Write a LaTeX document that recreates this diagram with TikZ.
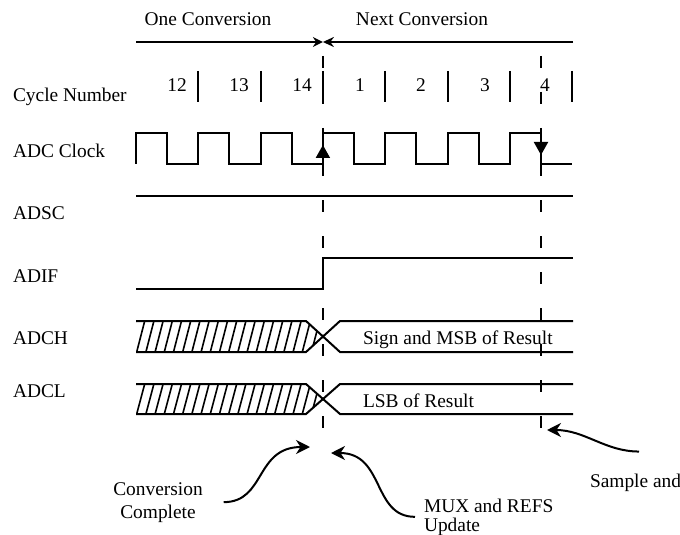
\documentclass[tikz,border=0pt]{standalone}
\usepackage{fontspec}
\setmainfont{Liberation Serif}
\usetikzlibrary{arrows.meta}

\begin{document}
\begin{tikzpicture}[x=0.5pt, y=-0.5pt, line width=1pt,
  font=\fontsize{9.7}{11.5}\selectfont,
  lbl/.style={inner sep=0pt, anchor=base west},
  txt/.style={inner sep=0pt, anchor=base},
  vline/.style={dash pattern=on 6pt off 12pt},
  edgetip/.style={-{Triangle[length=6.5pt,width=7pt]}},
  callout/.style={-{Stealth[length=7pt,width=7pt]}}]
  \useasboundingbox (0,0) rectangle (680,535);
  \clip (0,0) rectangle (680,535);
  % Conversion span
  \node[txt] (one) at (208,26) {One Conversion};
  \node[txt] (next) at (422,26) {Next Conversion};
  \coordinate (spanl) at (136,42);
  \coordinate (spanm) at (322.9,42);
  \coordinate (spanr) at (573,42);
  \draw[-{Stealth[length=5pt,width=5pt]}] (spanl) -- (spanm);
  \draw[-{Stealth[length=5.5pt,width=5pt]}] (spanr) -- (spanm);
  % Signal names
  \node[lbl] (cyc) at (12,102) {Cycle Number};
  \node[lbl] (clk) at (12,157) {ADC Clock};
  \node[lbl] (adsc) at (12,220) {ADSC};
  \node[lbl] (adif) at (12,282) {ADIF};
  \node[lbl] (adch) at (12,344) {ADCH};
  \node[lbl] (adcl) at (12,397) {ADCL};
  % Cycle numbers and ticks
  \foreach \n/\x in {12/177,13/239,14/302,1/360,2/421,3/485,4/545}
    \node[txt] (c\n) at (\x,92) {\n};
  \foreach \x in {198.3,260.6,322.9,385.2,447.5,509.8,572.1}
    \draw (\x,71) -- (\x,102);
  % ADC Clock
  \draw (136,164) \foreach \k in {0,...,6} {-- ++(0,-31) -- ++(31.15,0) -- ++(0,31) -- ++(31.15,0)};
  \draw[edgetip] (322.9,164) -- (322.9,145);
  \draw[edgetip] (541,133) -- (541,155);
  % ADSC
  \draw (136,196) -- (573,196);
  % ADIF
  \draw (136,289) -- (322.9,289) -- (322.9,258) -- (573,258);
  % ADCH and ADCL buses
  \foreach \t/\b in {321/352,384/414} {
    \begin{scope}
      \clip (136,\t) -- (306,\t) -- (323,{(\t+\b)/2}) -- (306,\b) -- (136,\b) -- cycle;
      \foreach \x in {127.5,136.7,...,320}
        \draw[line width=0.8pt] (\x,\b) -- ++(8,\t-\b);
    \end{scope}
    \draw (136,\t) -- (306,\t) -- (340,\b) -- (573,\b);
    \draw (136,\b) -- (306,\b) -- (340,\t) -- (573,\t);
  }
  \node[lbl] (msb) at (362,344) {Sign and MSB of Result};
  \node[lbl] (lsb) at (362,407) {LSB of Result};
  % Dashed markers
  \draw[vline] (322.9,56) -- (322.9,428);
  \draw[vline] (541,56) -- (541,428);
  % Callouts
  \node[txt, align=center] (done) at (158,518) {Conversion\\Complete};
  \node[lbl, align=left] (mux) at (423,531) {MUX and REFS\\[-2pt]Update};
  \node[lbl] (sh) at (589,487) {Sample and Hold};
  \coordinate (donetip) at (310,447);
  \coordinate (muxtip) at (331,453);
  \coordinate (shtip) at (547,430);
  \draw[callout] ([xshift=10pt]done.east) .. controls +(42,0) and +(-55,0) .. (donetip);
  \draw[callout] ([xshift=-4pt]mux.west) .. controls +(-43,0) and +(54,0) .. (muxtip);
  \draw[callout] ([xshift=25pt,yshift=10.5pt]sh.north west) .. controls +(-34,0) and +(38,0) .. (shtip);
\end{tikzpicture}
\end{document}
